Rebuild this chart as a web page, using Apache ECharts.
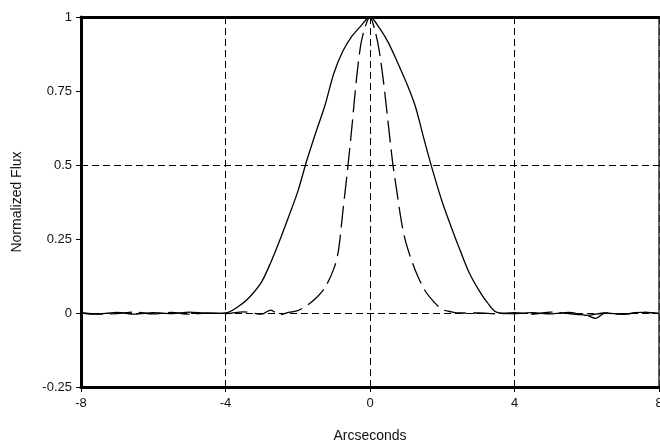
<!DOCTYPE html>
<html>
<head>
<meta charset="utf-8">
<script src="https://cdn.jsdelivr.net/npm/echarts@6/dist/echarts.min.js"></script>
<style>
  html, body { margin: 0; padding: 0; background: #fff; }
  #chart { width: 660px; height: 444px; }
</style>
</head>
<body>
<div id="chart"></div>
<script>
// wide profile (solid)
var solidX = [-8, -7.5, -7, -6.5, -6, -5.5, -5, -4.5, -4, -3.5, -3.25, -3, -2.75, -2.5, -2.25, -2, -1.75, -1.5, -1.25, -1, -0.75, -0.5, -0.25, 0,
  0.25, 0.5, 0.75, 1, 1.25, 1.5, 1.75, 2, 2.25, 2.5, 2.75, 3, 3.25, 3.5, 4, 4.5, 5, 5.5, 6, 6.5, 7, 7.5, 8]
var solidY = [0, -0.003, 0.002, -0.004, 0.001, -0.002, 0.003, -0.001, 0, 0.035, 0.065, 0.105, 0.17, 0.245, 0.326, 0.41, 0.515, 0.61, 0.70, 0.81, 0.885, 0.935, 0.97, 1.0,
  0.965, 0.915, 0.85, 0.78, 0.70, 0.585, 0.475, 0.375, 0.29, 0.21, 0.135, 0.08, 0.035, 0.003, -0.002, 0.001, -0.003, 0.002, -0.008, 0, -0.004, 0.002, -0.001]

// narrow profile (dashed)
var dashX = [-8, -7.5, -7, -6.5, -6, -5.5, -5, -4.5, -4, -3.5, -3, -2.75, -2.5, -2.25, -2, -1.75, -1.5, -1.25, -1, -0.875, -0.75, -0.625, -0.5, -0.375, -0.25, -0.125, 0,
  0.125, 0.25, 0.375, 0.5, 0.625, 0.75, 0.875, 1, 1.25, 1.5, 1.75, 2, 2.25, 2.5, 3, 3.5, 4, 4.5, 5, 5.5, 6, 6.25, 6.5, 7, 7.5, 8]
var dashY = [0, -0.004, -0.002, 0.003, -0.003, 0.002, -0.004, 0, -0.002, 0.004, -0.004, 0.01, -0.006, 0.002, 0.008, 0.025, 0.05, 0.085, 0.15, 0.21, 0.345, 0.48, 0.63, 0.79, 0.91, 0.97, 1.0,
  0.96, 0.89, 0.78, 0.645, 0.51, 0.405, 0.305, 0.235, 0.145, 0.08, 0.04, 0.012, 0.004, 0, 0, -0.003, 0.001, -0.004, 0.003, -0.002, -0.008, -0.018, 0, -0.004, 0.003, -0.002]

var xTicks = [-8, -4, 0, 4, 8]
var yTicks = [-0.25, 0, 0.25, 0.5, 0.75, 1]
var hLines = [0, 0.5]

var chart = echarts.init(document.getElementById('chart'))
var font = 'Liberation Sans, Arial, sans-serif'

var option = {
  backgroundColor: '#fff',
  animation: false,
  grid: { left: 81, right: 1, top: 17, bottom: 57, outerBoundsMode: 'none', containLabel: false },
  xAxis: [{
    type: 'value',
    min: xTicks[0],
    max: xTicks[xTicks.length - 1],
    interval: 4,
    name: 'Arcseconds',
    nameLocation: 'middle',
    nameGap: 42,
    nameTextStyle: { fontFamily: font, fontSize: 14, color: '#111' },
    axisLine: { onZero: false, lineStyle: { color: '#000', width: 3 } },
    axisTick: { length: 5, lineStyle: { color: '#000', width: 1 } },
    axisLabel: { fontFamily: font, fontSize: 13, color: '#111', margin: 10 },
    splitLine: { show: true, lineStyle: { color: '#000', width: 1, type: [7, 4] } }
  }, {
    type: 'value',
    position: 'top',
    min: xTicks[0],
    max: xTicks[xTicks.length - 1],
    axisLine: { show: true, onZero: false, lineStyle: { color: '#000', width: 3 } },
    axisTick: { show: false },
    axisLabel: { show: false },
    splitLine: { show: false }
  }],
  yAxis: [{
    type: 'value',
    min: yTicks[0],
    max: yTicks[yTicks.length - 1],
    interval: 0.25,
    name: 'Normalized Flux',
    nameLocation: 'middle',
    nameGap: 57,
    nameRotate: 90,
    nameTextStyle: { fontFamily: font, fontSize: 14, color: '#111' },
    axisLine: { show: true, onZero: false, lineStyle: { color: '#000', width: 3 } },
    axisTick: { show: true, length: 5, lineStyle: { color: '#000', width: 1 } },
    axisLabel: { fontFamily: font, fontSize: 13, color: '#111', margin: 9 },
    splitLine: { show: false }
  }, {
    type: 'value',
    position: 'right',
    min: yTicks[0],
    max: yTicks[yTicks.length - 1],
    axisLine: { show: true, onZero: false, lineStyle: { color: '#333', width: 1.5 } },
    axisTick: { show: false },
    axisLabel: { show: false },
    splitLine: { show: false }
  }],
  series: [{
    type: 'line',
    data: solidX.map(function (x, i) { return [x, solidY[i]] }),
    showSymbol: false,
    smooth: 0.3,
    lineStyle: { color: '#000', width: 1.3 },
    markLine: {
      silent: true,
      symbol: 'none',
      label: { show: false },
      lineStyle: { color: '#000', width: 1, type: [7, 4] },
      data: hLines.map(function (v) { return { yAxis: v } })
    }
  }, {
    type: 'line',
    data: dashX.map(function (x, i) { return [x, dashY[i]] }),
    showSymbol: false,
    smooth: 0.3,
    lineStyle: { color: '#000', width: 1.3, type: [22, 7] }
  }]
}

chart.setOption(option)
</script>
</body>
</html>
